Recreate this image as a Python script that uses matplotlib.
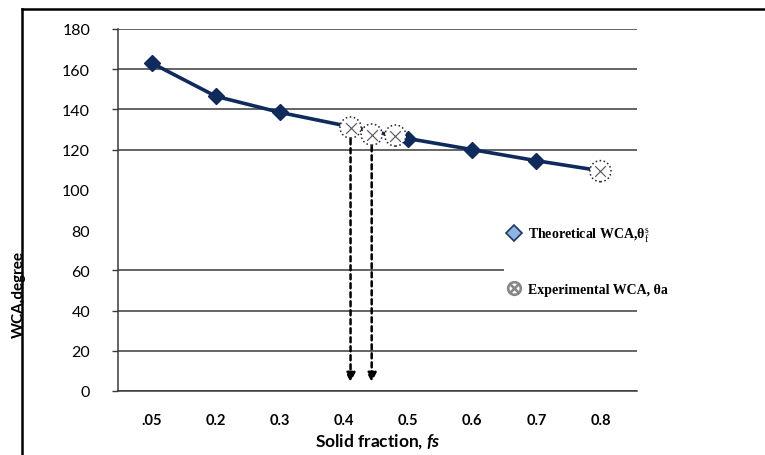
import matplotlib
matplotlib.use("Agg")
import matplotlib.pyplot as plt
from matplotlib.lines import Line2D

plt.rcParams['mathtext.fontset'] = 'custom'
plt.rcParams['mathtext.it'] = 'Lato:italic:bold'
plt.rcParams['mathtext.rm'] = 'Liberation Serif'

# x positions on the chart's category-like axis (".05" sits where 0.1 would be)
tick_pos = [0.1, 0.2, 0.3, 0.4, 0.5, 0.6, 0.7, 0.8]
tick_labels = [".05", "0.2", "0.3", "0.4", "0.5", "0.6", "0.7", "0.8"]
y_ticks = [0, 20, 40, 60, 80, 100, 120, 140, 160, 180]

theory_x = [0.1, 0.2, 0.3, 0.5, 0.6, 0.7, 0.8]
theory_wca = [163, 146.5, 138.5, 125.5, 120, 114.5, 109.5]

exp_x = [0.41, 0.443, 0.48, 0.8]
exp_wca = [131, 127.5, 127, 109.3]
arrow_idx = [0, 1]  # experimental points with a drop line to the axis

navy = "#0f2a5c"
grid_col = "#3a3a3a"

fig = plt.figure(figsize=(7.65, 4.56), dpi=100)
ax = fig.add_axes([0.1542, 0.1404, 0.6784, 0.7939])

ax.plot(theory_x, theory_wca, color=navy, lw=2.6, marker="D", ms=8,
        mfc=navy, mec=navy, zorder=3)

for i in arrow_idx:
    ax.annotate("", xy=(exp_x[i], 3), xytext=(exp_x[i], exp_wca[i]),
                arrowprops=dict(arrowstyle="-|>,head_width=0.28,head_length=0.55",
                                color="black", lw=1.8, ls=(0, (2, 1.6))),
                zorder=2)

ax.scatter(exp_x, exp_wca, s=230, marker="o", facecolor="white",
           edgecolor="#222222", linewidths=1.1, linestyle=":", zorder=4)
ax.scatter(exp_x, exp_wca, s=60, marker="x", color="#555555",
           linewidths=0.8, zorder=5)

ax.set_xlim(0.047, 0.857)
ax.set_ylim(0, 180)
ax.set_xticks(tick_pos)
ax.set_xticklabels(tick_labels, family="Lato", fontweight="bold", fontsize=10.5)
ax.set_yticks(y_ticks)
ax.set_yticklabels([str(v) for v in y_ticks], family="Lato", fontsize=11.5)
ax.tick_params(axis="x", length=0, pad=16)
ax.tick_params(axis="y", length=4, width=1, color=grid_col, pad=16)

ax.grid(axis="y", color=grid_col, lw=1.1)
ax.set_axisbelow(True)
for val, tick in zip(y_ticks, ax.yaxis.get_major_ticks()):
    if val in (80, 100):
        tick.gridline.set_visible(False)
        tick.tick1line.set_visible(False)

for side in ("top", "right"):
    ax.spines[side].set_visible(False)
ax.spines["left"].set_color(grid_col)
ax.spines["bottom"].set_color(grid_col)
ax.spines["left"].set_linewidth(1.1)
ax.spines["bottom"].set_linewidth(1.1)

ax.set_xlabel("Solid fraction, $fs$", family="Lato", fontweight="bold",
              fontsize=12.5, labelpad=3)
fig.text(19 / 765, 1 - 294 / 456, "WCA,degree", rotation=90, ha="center",
         va="center", family="Lato", fontweight="bold", fontsize=11)

handles = [
    Line2D([], [], ls="none", marker="D", ms=8, mfc="#8db4e2", mec="#1f3864",
           mew=1.2),
    Line2D([], [], ls="none", marker="$\u2297$", ms=10, color="#888888"),
]
labels = [r"Theoretical WCA,θ$^{\mathrm{s}}_{\mathrm{f}}$", "Experimental WCA, θa"]
leg = ax.legend(handles, labels, loc="upper left",
                bbox_to_anchor=(497 / 765, 1 - 215 / 456),
                bbox_transform=fig.transFigure, frameon=True, facecolor="white",
                edgecolor="none", framealpha=1, handlelength=0.8,
                handletextpad=0.6, labelspacing=2.85, borderpad=0.3,
                prop=dict(family="Liberation Serif", weight="bold", size=10))

# outer frame (top and left edges visible in the source)
fig.add_artist(Line2D([22 / 765, 22 / 765], [0, 1 - 10 / 456], color="black",
                      lw=1.8, transform=fig.transFigure))
fig.add_artist(Line2D([22 / 765, 1], [1 - 10 / 456, 1 - 10 / 456],
                      color="black", lw=1.8, transform=fig.transFigure))

fig.savefig("out.png", dpi=100)
